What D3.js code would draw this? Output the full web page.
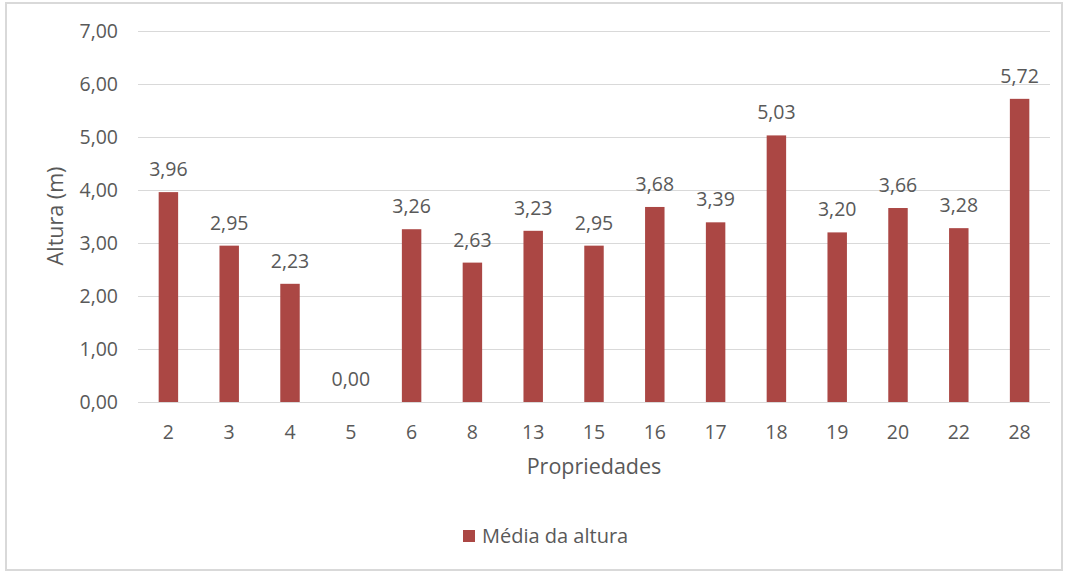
<!DOCTYPE html>
<html><head><meta charset="utf-8">
<script src="https://cdn.jsdelivr.net/npm/d3@7"></script>
<style>body{margin:0;background:#fff}svg{display:block}text{font-family:"Open Sans",sans-serif;fill:#595959}</style>
</head><body>
<script>
const categories = ["2","3","4","5","6","8","13","15","16","17","18","19","20","22","28"];
const values = [3.96,2.95,2.23,0.00,3.26,2.63,3.23,2.95,3.68,3.39,5.03,3.20,3.66,3.28,5.72];
const yTicks = [0,1,2,3,4,5,6,7];
const seriesName = "Média da altura";
const xTitle = "Propriedades", yTitle = "Altura (m)";

const W=1065,H=572;
const svg=d3.select("body").append("svg").attr("width",W).attr("height",H);
svg.append("rect").attr("x",6).attr("y",3).attr("width",1056).attr("height",567).attr("fill","#fff").attr("stroke","#d9d9d9").attr("stroke-width",2);

const pL=138,pR=1050,pT=31,pB=402;
const x=d3.scaleBand().domain(categories).range([pL,pR]).paddingInner(0.68).paddingOuter(0.34);
const y=d3.scaleLinear().domain([0,7]).range([pB,pT]);
const fmt=v=>v.toFixed(2).replace(".",",");
const color="#AB4744";
const fs=19.5;

svg.append("g").selectAll("line").data(yTicks).join("line")
 .attr("x1",pL).attr("x2",pR).attr("y1",d=>y(d)).attr("y2",d=>y(d))
 .attr("stroke","#d9d9d9").attr("stroke-width",1).attr("shape-rendering","crispEdges");

svg.append("g").selectAll("text").data(yTicks).join("text")
 .attr("x",118).attr("y",d=>y(d)).attr("dy","0.35em").attr("text-anchor","end")
 .attr("font-size",fs).text(fmt);

svg.append("g").selectAll("rect").data(values).join("rect")
 .attr("x",(d,i)=>x(categories[i])).attr("width",x.bandwidth())
 .attr("y",d=>y(d)).attr("height",d=>pB-y(d)).attr("fill",color);

svg.append("g").selectAll("text").data(values).join("text")
 .attr("x",(d,i)=>x(categories[i])+x.bandwidth()/2).attr("y",d=>y(d)-16)
 .attr("text-anchor","middle").attr("font-size",fs).text(fmt);

svg.append("g").selectAll("text").data(categories).join("text")
 .attr("x",d=>x(d)+x.bandwidth()/2).attr("y",439).attr("text-anchor","middle")
 .attr("font-size",fs).text(d=>d);

svg.append("text").attr("x",(pL+pR)/2).attr("y",474).attr("text-anchor","middle").attr("font-size",21.5).text(xTitle);
svg.append("text").attr("transform","translate(63,216) rotate(-90)").attr("text-anchor","middle").attr("font-size",21.5).text(yTitle);

svg.append("rect").attr("x",463).attr("y",530).attr("width",12).attr("height",12).attr("fill",color);
svg.append("text").attr("x",482).attr("y",543).attr("font-size",20).text(seriesName);
</script>
</body></html>
